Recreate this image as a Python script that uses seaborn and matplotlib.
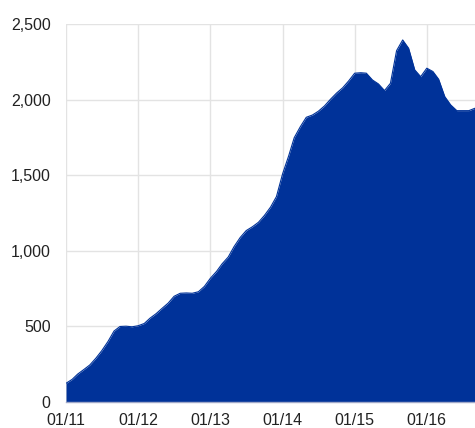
import matplotlib
matplotlib.use("Agg")
import matplotlib.pyplot as plt
import matplotlib.dates as mdates
import seaborn as sns
import pandas as pd
import numpy as np

# Monthly values, Jan 2011 .. Sep 2016
start_month = "2011-01-01"
values = [124, 150, 185, 215, 245, 290, 340, 400, 470, 500,
          502, 498, 505, 520, 555, 585, 620, 655, 700, 720,
          722, 720, 730, 765, 820, 865, 915, 960, 1030, 1090,
          1135, 1160, 1190, 1235, 1290, 1360, 1510, 1630, 1750, 1823,
          1885, 1900, 1925, 1960, 2005, 2045, 2080, 2125, 2177, 2180,
          2177, 2132, 2106, 2062, 2110, 2326, 2397, 2342, 2199, 2154,
          2210, 2188, 2137, 2022, 1967, 1929, 1929, 1929, 1945]
y_ticks = [0, 500, 1000, 1500, 2000, 2500]
y_tick_labels = ["0", "500", "1,000", "1,500", "2,000", "2,500"]
x_tick_dates = ["2011-01-01", "2012-01-01", "2013-01-01", "2014-01-01",
                "2015-01-01", "2016-01-01"]
x_tick_labels = ["01/11", "01/12", "01/13", "01/14", "01/15", "01/16"]

dates = pd.date_range(start_month, periods=len(values), freq="MS")
df = pd.DataFrame({"date": dates, "value": values})

sns.set_style("white")
plt.rcParams["font.family"] = ["Liberation Sans", "DejaVu Sans"]

color = "#003299"
fig = plt.figure(figsize=(4.75, 4.28), dpi=100)
ax = fig.add_axes([0.139, 0.0607, 0.861, 0.8823])

sns.lineplot(data=df, x="date", y="value", ax=ax, color=color, linewidth=0.8)
ax.fill_between(df["date"], 0, df["value"], color=color, linewidth=0, zorder=2)

ax.set_ylim(0, 2500)
ax.set_xlim(dates[0], dates[-1])
ax.set_yticks(y_ticks)
ax.set_yticklabels(y_tick_labels)
ax.set_xticks(pd.to_datetime(x_tick_dates))
ax.set_xticklabels(x_tick_labels)
ax.set_xlabel("")
ax.set_ylabel("")

ax.grid(True, color="#e3e3e3", linewidth=1.0, zorder=0)
ax.set_axisbelow(True)
for s in ["top", "right", "left"]:
    ax.spines[s].set_visible(False)
ax.spines["bottom"].set_color("#a0a8c8")
ax.spines["bottom"].set_linewidth(1.0)
ax.spines["bottom"].set_zorder(5)

ax.tick_params(axis="both", length=0, labelsize=11.5, colors="#222222")
ax.tick_params(axis="y", pad=11)
ax.tick_params(axis="x", pad=8)

fig.savefig("out.png", dpi=100)
